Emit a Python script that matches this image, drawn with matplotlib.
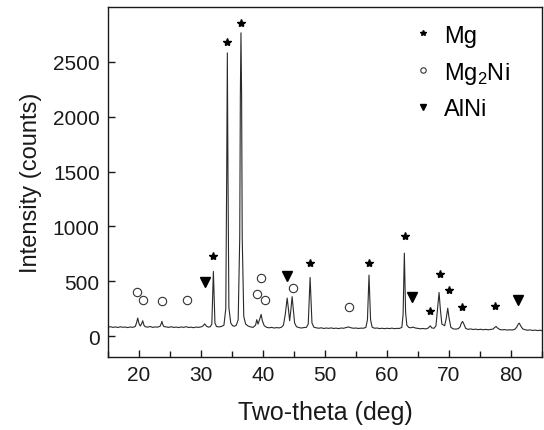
import matplotlib
matplotlib.use('Agg')
import matplotlib.pyplot as plt
from matplotlib.ticker import MultipleLocator

plt.rcParams['font.family'] = ['Liberation Sans', 'DejaVu Sans']
plt.rcParams['mathtext.fontset'] = 'custom'
plt.rcParams['mathtext.rm'] = 'Liberation Sans'

# XRD trace (deg, counts)
two_theta = [
    15.0, 15.4, 15.8, 16.2, 16.6, 17.0, 17.4, 17.8, 18.2, 18.6, 19.0, 19.4, 19.6, 19.8, 20.0,
    20.2, 20.4, 20.6, 20.8, 21.0, 21.4, 21.8, 22.2, 22.6, 23.0, 23.4, 23.6, 23.7, 23.8, 24.0,
    24.4, 24.8, 25.2, 25.6, 26.0, 26.4, 26.8, 27.2, 27.6, 28.0, 28.4, 28.8, 29.2, 29.6, 30.0,
    30.3, 30.6, 30.9, 31.2, 31.5, 31.75, 31.9, 32.0, 32.1, 32.25, 32.5, 32.9, 33.3, 33.7, 34.0,
    34.15, 34.25, 34.35, 34.5, 34.8, 35.1, 35.4, 35.7, 36.0, 36.25, 36.35, 36.45, 36.55, 36.65, 36.9,
    37.2, 37.6, 38.0, 38.4, 38.8, 39.0, 39.2, 39.5, 39.7, 39.9, 40.2, 40.6, 41.0, 41.4, 41.8,
    42.2, 42.6, 43.0, 43.3, 43.6, 43.9, 44.1, 44.3, 44.5, 44.7, 44.9, 45.1, 45.4, 45.8, 46.2,
    46.6, 47.0, 47.3, 47.45, 47.6, 47.75, 47.9, 48.2, 48.6, 49.0, 49.4, 49.8, 50.2, 50.6, 51.0,
    51.4, 51.8, 52.2, 52.6, 53.0, 53.4, 53.8, 54.2, 54.6, 55.0, 55.4, 55.8, 56.2, 56.6, 56.85,
    57.0, 57.1, 57.2, 57.35, 57.6, 58.0, 58.4, 58.8, 59.2, 59.6, 60.0, 60.4, 60.8, 61.2, 61.6,
    62.0, 62.4, 62.6, 62.7, 62.8, 62.9, 63.0, 63.2, 63.5, 63.8, 64.2, 64.6, 65.0, 65.4, 65.8,
    66.2, 66.6, 67.0, 67.2, 67.6, 67.9, 68.15, 68.4, 68.6, 68.85, 69.3, 69.55, 69.8, 70.0, 70.3,
    70.7, 71.1, 71.5, 71.8, 72.0, 72.2, 72.4, 72.7, 73.1, 73.5, 73.9, 74.3, 74.7, 75.1, 75.5,
    75.9, 76.3, 76.7, 77.1, 77.4, 77.6, 77.8, 78.2, 78.6, 79.0, 79.4, 79.8, 80.2, 80.6, 80.9,
    81.2, 81.35, 81.6, 81.9, 82.3, 82.7, 83.1, 83.5, 83.9, 84.3, 84.7, 85.0,
]
counts = [
    82, 86, 80, 84, 79, 85, 81, 83, 78, 84, 80, 88, 120, 165, 115,
    92, 110, 140, 100, 86, 82, 88, 80, 84, 82, 90, 115, 135, 112, 88,
    84, 80, 86, 79, 83, 78, 84, 80, 86, 79, 82, 77, 83, 80, 84,
    92, 112, 90, 82, 86, 110, 400, 590, 400, 120, 88, 84, 88, 100, 250,
    1500, 2582, 1500, 260, 120, 95, 90, 100, 150, 900, 2200, 2765, 2200, 900, 180,
    110, 92, 84, 80, 100, 150, 110, 160, 198, 140, 95, 80, 76, 80, 74,
    78, 75, 82, 100, 200, 347, 250, 140, 240, 360, 240, 120, 86, 78, 74,
    78, 80, 110, 320, 535, 320, 120, 82, 76, 72, 76, 70, 74, 71, 75,
    70, 73, 69, 74, 72, 78, 84, 76, 72, 74, 70, 73, 72, 80, 150,
    400, 556, 400, 150, 82, 72, 74, 69, 72, 68, 72, 69, 73, 68, 71,
    70, 80, 200, 500, 757, 500, 220, 100, 80, 76, 82, 74, 70, 67, 70,
    66, 72, 94, 75, 72, 95, 250, 398, 250, 110, 95, 160, 255, 170, 80,
    66, 64, 68, 85, 120, 134, 110, 70, 62, 66, 60, 64, 59, 63, 58,
    62, 58, 61, 64, 80, 88, 75, 60, 57, 60, 55, 58, 56, 62, 80,
    112, 118, 90, 66, 58, 54, 57, 52, 55, 51, 54, 50,
]

# phase marks
mg_x = [31.9, 34.25, 36.4, 47.6, 57.1, 62.9, 66.9, 68.5, 69.95, 72.15, 77.4]
mg_y = [733, 2680, 2856, 666, 666, 910, 231, 563, 422, 267, 277]
mg2ni_x = [19.6, 20.7, 23.7, 27.7, 39.0, 39.6, 40.4, 44.9, 53.8]
mg2ni_y = [404, 325, 322, 325, 383, 532, 326, 435, 262]
alni_x = [30.6, 43.8, 64.1, 81.2]
alni_y = [490, 545, 359, 328]

fig = plt.figure(figsize=(5.44, 4.31), dpi=100)
ax = fig.add_axes([0.1985, 0.1694, 0.7978, 0.812])

ax.plot(two_theta, counts, color='#2a2a2a', lw=0.8)
ax.plot(mg_x, mg_y, ls='none', marker='*', ms=6, color='black', label='Mg')
ax.plot(mg2ni_x, mg2ni_y, ls='none', marker='o', ms=6, mfc='white', mec='#333333',
        mew=0.8, label=r'Mg$_\mathregular{2}$Ni')
ax.plot(alni_x, alni_y, ls='none', marker='v', ms=7, color='black', label='AlNi')

ax.set_xlim(15, 85)
ax.set_ylim(-190, 3000)
ax.xaxis.set_major_locator(MultipleLocator(10))
ax.xaxis.set_minor_locator(MultipleLocator(5))
ax.set_yticks([0, 500, 1000, 1500, 2000, 2500])
ax.tick_params(which='both', direction='in', labelsize=15, width=1, colors='#1a1a1a')
ax.tick_params(which='major', length=5, pad=6)
ax.tick_params(which='minor', length=4)
for s in ax.spines.values():
    s.set_linewidth(1.0)
    s.set_color('#1a1a1a')

ax.set_xlabel('Two-theta (deg)', fontsize=18, color='#1a1a1a', labelpad=11)
ax.set_ylabel('Intensity (counts)', fontsize=17, color='#1a1a1a', labelpad=8)

ax.legend(loc='upper left', bbox_to_anchor=(0.698, 0.95), frameon=False, fontsize=17,
          markerscale=0.65, handlelength=1.0, handletextpad=0.4, labelspacing=0.55,
          borderpad=0, borderaxespad=0)

fig.savefig('out.png', dpi=100)
